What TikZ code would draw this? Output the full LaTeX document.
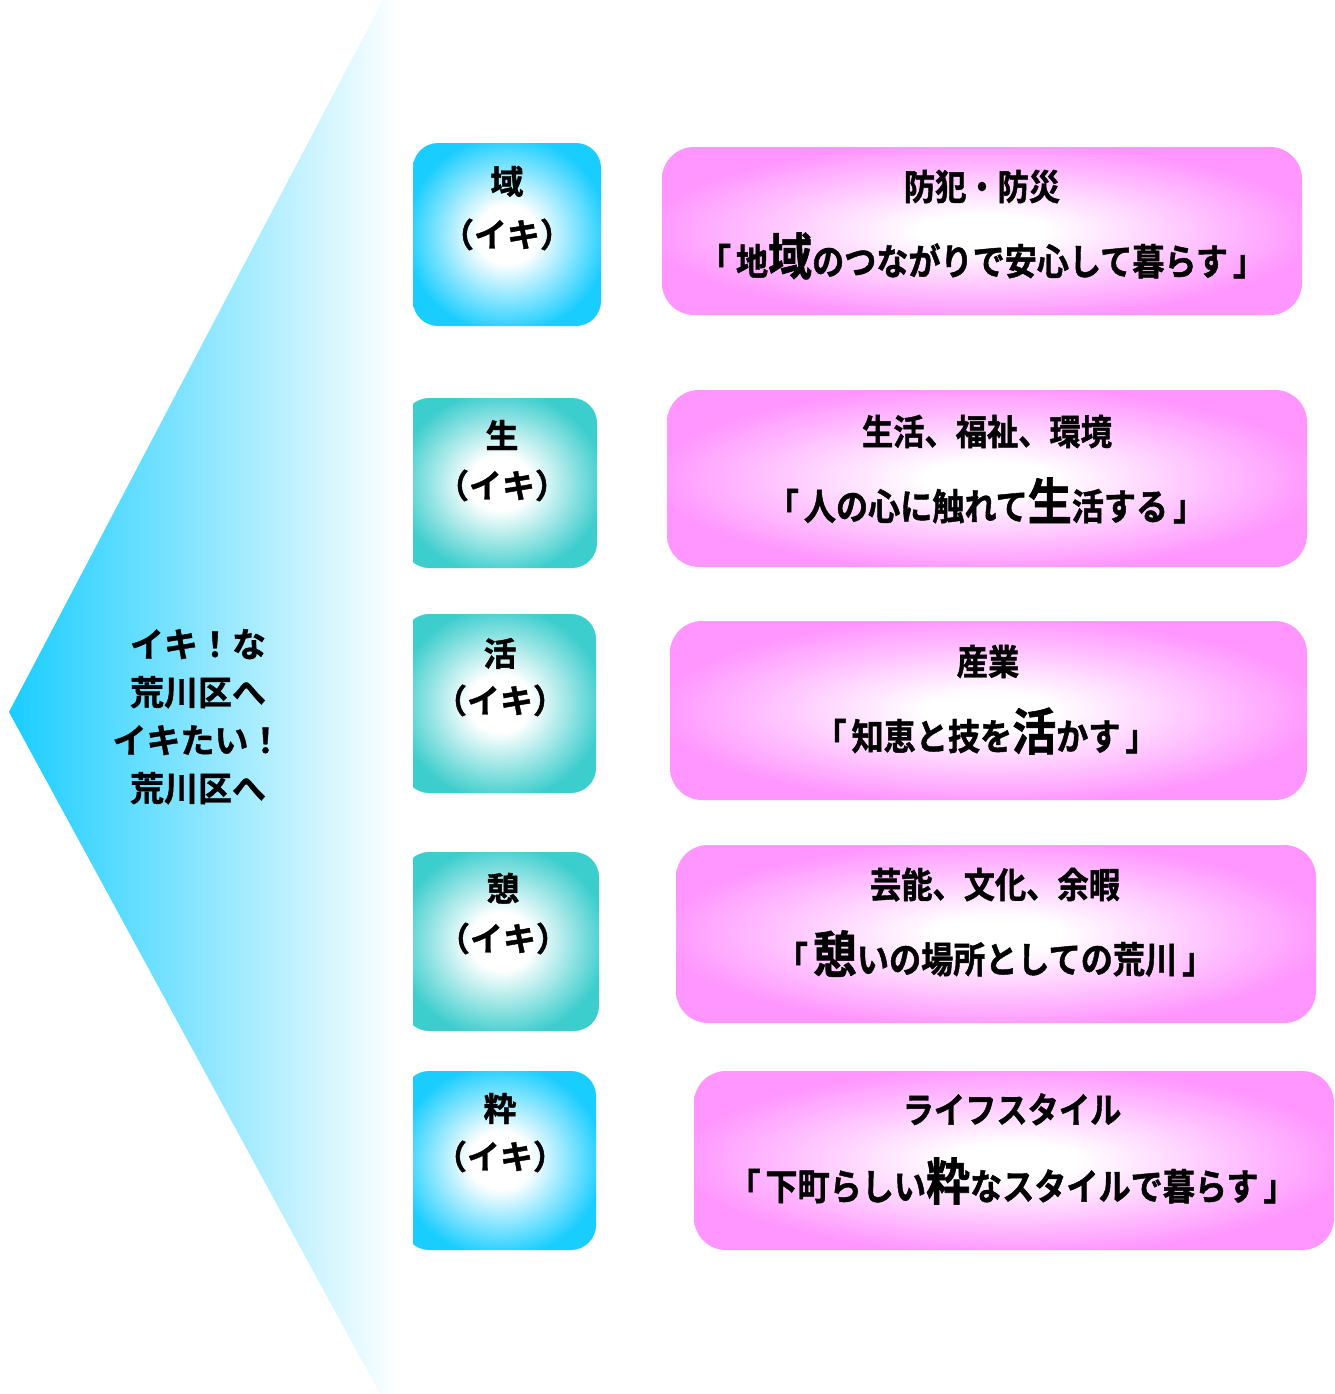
\documentclass[tikz,border=0pt]{standalone}
\usepackage{fontspec}
\newfontfamily\jpb{Noto Sans CJK JP Bold}[FakeStretch=0.88,FakeBold=1.2]
\newfontfamily\jpc{Noto Sans CJK JP Bold}[FakeBold=1.2]
\definecolor{cyanB}{RGB}{25,205,255}
\definecolor{tealB}{RGB}{60,205,205}
\definecolor{pinkB}{RGB}{255,150,255}
\pgfdeclareradialshading{cyanbox}{\pgfpoint{0bp}{0bp}}{color(0bp)=(white); color(8bp)=(white); color(27bp)=(cyanB); color(50bp)=(cyanB)}
\pgfdeclareradialshading{tealbox}{\pgfpoint{0bp}{0bp}}{color(0bp)=(white); color(8bp)=(white); color(27bp)=(tealB); color(50bp)=(tealB)}
\pgfdeclareradialshading{pinkbox}{\pgfpoint{0bp}{0bp}}{color(0bp)=(white); color(5bp)=(white); color(26bp)=(pinkB); color(50bp)=(pinkB)}
\pgfdeclarehorizontalshading{trishade}{100bp}{color(0bp)=(cyanB); color(25bp)=(cyanB); color(75bp)=(white); color(100bp)=(white)}
\tikzset{
  sbox/.style={shading=#1, rounded corners=25pt, inner sep=0pt, draw=none},
  pbox/.style={shading=pinkbox, rounded corners=32pt, inner sep=0pt, draw=none},
  stxt/.style={font=\jpc\fontsize{33}{33}\selectfont, inner sep=0pt, anchor=base},
  ptitle/.style={font=\jpb\fontsize{35.5}{35.5}\selectfont, inner sep=0pt, anchor=base},
  ptxt/.style={font=\jpb\fontsize{36.5}{36.5}\selectfont, inner sep=0pt, anchor=base},
  ltxt/.style={font=\jpc\fontsize{34}{34}\selectfont, inner sep=0pt, anchor=base},
}
\newcommand{\bigc}[1]{{\fontsize{50}{50}\selectfont #1}}
\newcommand{\jlq}{「\hspace{5pt}}
\newcommand{\jrq}{\hspace{5pt}」}
\begin{document}
\begin{tikzpicture}[x=1pt,y=-1pt]
\useasboundingbox (0,0) rectangle (1335,1394);
% big chevron
\shade[shading=trishade] (9,712) -- (383,0) -- (400,0) -- (400,1394) -- (380,1394) -- cycle;
\node[ltxt] (l1) at (198,657) {イキ！な};
\node[ltxt] (l2) at (198,705) {荒川区へ};
\node[ltxt] (l3) at (197.5,753) {イキたい！};
\node[ltxt] (l4) at (198,801) {荒川区へ};
% small boxes
\node[sbox=cyanbox, minimum width=188pt, minimum height=183pt] (s1) at (507,234.5) {};
\begin{scope}
\clip (413,0) rectangle (700,1394);
\node[sbox=tealbox, minimum width=193pt, minimum height=170pt] (s2) at (500.5,483) {};
\node[sbox=tealbox, minimum width=192pt, minimum height=179pt] (s3) at (500,703.5) {};
\node[sbox=tealbox, minimum width=195pt, minimum height=179pt] (s4) at (501.5,941.5) {};
\node[sbox=cyanbox, minimum width=192pt, minimum height=179pt] (s5) at (500,1160.5) {};
\end{scope}
\node[stxt] (s1a) at (507,194) {域};
\node[stxt] (s1b) at (507,247) {（イキ）};
\node[stxt] (s2a) at (502,448) {生};
\node[stxt] (s2b) at (502,498) {（イキ）};
\node[stxt] (s3a) at (500,666) {活};
\node[stxt] (s3b) at (500,713) {（イキ）};
\node[stxt] (s4a) at (503,901) {憩};
\node[stxt] (s4b) at (503,951) {（イキ）};
\node[stxt] (s5a) at (500,1121) {粋};
\node[stxt] (s5b) at (500,1169) {（イキ）};
% pink boxes
\node[pbox, minimum width=640pt, minimum height=168pt] (p1) at (982,231) {};
\node[pbox, minimum width=640pt, minimum height=177pt] (p2) at (987,478.5) {};
\node[pbox, minimum width=637pt, minimum height=179pt] (p3) at (988.5,710.5) {};
\node[pbox, minimum width=640pt, minimum height=178pt] (p4) at (996,934) {};
\node[pbox, minimum width=640pt, minimum height=179pt] (p5) at (1014,1160.5) {};
\node[ptitle] (p1a) at (982,200) {防犯・防災};
\node[ptxt] (p1b) at (982,275) {\jlq 地\bigc{域}のつながりで安心して暮らす\jrq};
\node[ptitle] (p2a) at (987,445) {生活、福祉、環境};
\node[ptxt] (p2b) at (986,520) {\jlq 人の心に触れて\bigc{生}活する\jrq};
\node[ptitle] (p3a) at (988,675) {産業};
\node[ptxt] (p3b) at (986,750) {\jlq 知恵と技を\bigc{活}かす\jrq};
\node[ptitle] (p4a) at (995,898) {芸能、文化、余暇};
\node[ptxt] (p4b) at (995,973) {\jlq\bigc{憩}いの場所としての荒川\jrq};
\node[ptitle] (p5a) at (1012,1123) {ライフスタイル};
\node[ptxt] (p5b) at (1012,1200) {\jlq 下町らしい\bigc{粋}なスタイルで暮らす\jrq};
\end{tikzpicture}
\end{document}
